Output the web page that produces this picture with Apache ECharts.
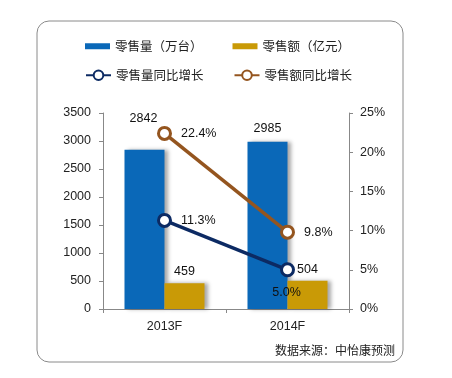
<!DOCTYPE html>
<html><head><meta charset="utf-8">
<script src="https://cdn.jsdelivr.net/npm/echarts@6/dist/echarts.min.js"></script>
<style>html,body{margin:0;padding:0;background:#fff}#c{width:452px;height:378px}</style>
</head><body><div id="c"></div>
<script>
const categories = ['2013F', '2014F'];
const salesVolume = [2842, 2985];
const salesValue = [459, 504];
const volumeGrowth = [11.3, 5.0];
const valueGrowth = [22.4, 9.8];
const leftTicks = {min: 0, max: 3500, interval: 500};
const rightTicks = {min: 0, max: 25, interval: 5};
const names = ['零售量（万台）', '零售额（亿元）', '零售量同比增长', '零售额同比增长'];

const FONT = '"Liberation Sans", Arial, sans-serif';
const CJK = '"Noto Sans CJK SC", sans-serif';
const chart = echarts.init(document.getElementById('c'));
chart.setOption({
  animation: false,
  graphic: [
    {type: 'rect', shape: {x: 37, y: 21, width: 366, height: 341, r: 12},
     style: {fill: 'none', stroke: '#8a8a8a', lineWidth: 1}, z: -1},
    {type: 'text', left: 275, top: 344,
     style: {text: '数据来源：中怡康预测', fill: '#222', font: '12px "Noto Sans CJK SC", sans-serif'}}
  ],
  legend: [
    {data: [names[0], names[1]], left: 80, top: 35, itemWidth: 25, itemHeight: 6, itemGap: 30,
     icon: 'rect', textStyle: {fontFamily: CJK, fontSize: 12.5, color: '#222'}},
    {data: [names[2], names[3]], left: 80, top: 64, itemWidth: 25, itemHeight: 12, itemGap: 30,
     textStyle: {fontFamily: CJK, fontSize: 12.5, color: '#222'}}
  ],
  grid: {left: 103, right: 103, top: 113, bottom: 69},
  xAxis: {
    type: 'category', data: categories,
    axisLine: {lineStyle: {color: '#888'}},
    axisTick: {show: true, length: 4, lineStyle: {color: '#888'}},
    axisLabel: {color: '#222', fontFamily: FONT, fontSize: 12.5, margin: 11}
  },
  yAxis: [
    {type: 'value', min: leftTicks.min, max: leftTicks.max, interval: leftTicks.interval,
     splitLine: {show: false},
     axisLine: {show: true, lineStyle: {color: '#888'}},
     axisTick: {show: true, length: 4, lineStyle: {color: '#888'}},
     axisLabel: {color: '#222', fontFamily: FONT, fontSize: 12.5, margin: 12, formatter: v => String(v)}},
    {type: 'value', min: rightTicks.min, max: rightTicks.max, interval: rightTicks.interval,
     splitLine: {show: false},
     axisLine: {show: true, lineStyle: {color: '#888'}},
     axisTick: {show: true, length: 4, lineStyle: {color: '#888'}},
     axisLabel: {color: '#222', fontFamily: FONT, fontSize: 12.5, margin: 11, formatter: v => v + '%'}}
  ],
  series: [
    {name: names[0], type: 'bar', barWidth: 40, barGap: '0%',
     data: salesVolume.map((v, i) => ({value: v, label: {offset: i === 0 ? [-1, -20] : [0, -2]}})),
     itemStyle: {color: '#0a68b8', shadowColor: 'rgba(0,0,0,0.35)', shadowBlur: 4, shadowOffsetX: 3},
     label: {show: true, position: 'top', color: '#111', fontFamily: FONT, fontSize: 12.5}},
    {name: names[1], type: 'bar', barWidth: 40,
     data: salesValue,
     itemStyle: {color: '#c99a06', shadowColor: 'rgba(0,0,0,0.35)', shadowBlur: 4, shadowOffsetX: 3},
     label: {show: true, position: 'top', color: '#111', fontFamily: FONT, fontSize: 12.5}},
    {name: names[2], type: 'line', yAxisIndex: 1, data: volumeGrowth.map((v, i) => i === 1 ?
       {value: v, label: {position: 'bottom', distance: 9, offset: [-1, 0]}} : v),
     symbol: 'circle', symbolSize: 12, z: 5,
     lineStyle: {color: '#0c2a63', width: 3.5},
     itemStyle: {color: '#fff', borderColor: '#0c2a63', borderWidth: 3},
     label: {show: true, position: 'right', distance: 9, color: '#111', fontFamily: FONT, fontSize: 12.5,
       formatter: p => p.value.toFixed(1) + '%'}},
    {name: names[3], type: 'line', yAxisIndex: 1, data: valueGrowth,
     symbol: 'circle', symbolSize: 12, z: 5,
     lineStyle: {color: '#94551f', width: 3.5},
     itemStyle: {color: '#fff', borderColor: '#94551f', borderWidth: 3},
     label: {show: true, position: 'right', distance: 9, color: '#111', fontFamily: FONT, fontSize: 12.5,
       formatter: p => p.value.toFixed(1) + '%'}}
  ]
});
</script></body></html>
